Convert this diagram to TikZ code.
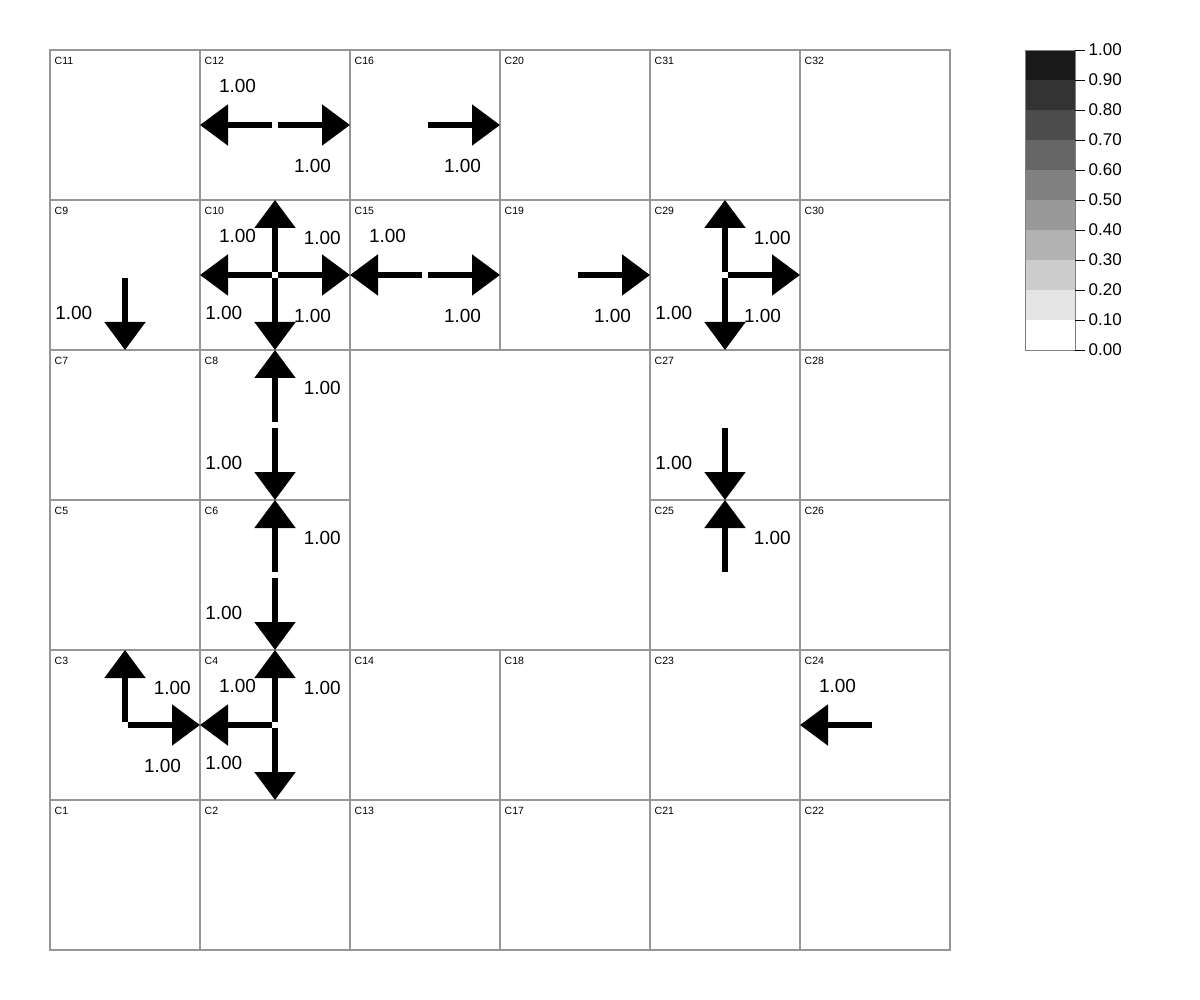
\documentclass[tikz,border=0pt]{standalone}
\usepackage{fontspec}
\setmainfont{Liberation Sans}
\usepackage{tikz}
\usetikzlibrary{arrows.meta, positioning}
\definecolor{gridGray}{RGB}{150,150,150}
\definecolor{barGray}{RGB}{128,128,128}
\tikzset{
    cell/.style={rectangle, draw=gridGray, line width=2pt, minimum size=150pt,
                 inner sep=0pt, outer sep=0pt, label={[cellid]north west:C#1}},
    cellid/.style={anchor=north west, font=\fontsize{10.5}{12}\selectfont, inner xsep=4.5pt, inner ysep=6.5pt},
    flux/.style={-{Triangle[length=28pt, width=40pt]}, line width=5.5pt, shorten <=3pt},
    lbl/.style={font=\fontsize{19}{22}\selectfont, inner sep=0pt},
    tick/.style={font=\fontsize{17}{20}\selectfont, anchor=west, inner sep=3.5pt}
}
\begin{document}
\begin{tikzpicture}[x=1pt, y=-1pt]
    \useasboundingbox (0,0) rectangle (1200,1000);

    % grid cells: id/column/row
    \foreach \id/\col/\row in {11/1/1, 12/2/1, 16/3/1, 20/4/1, 31/5/1, 32/6/1,
                               9/1/2, 10/2/2, 15/3/2, 19/4/2, 29/5/2, 30/6/2,
                               7/1/3, 8/2/3, 27/5/3, 28/6/3,
                               5/1/4, 6/2/4, 25/5/4, 26/6/4,
                               3/1/5, 4/2/5, 14/3/5, 18/4/5, 23/5/5, 24/6/5,
                               1/1/6, 2/2/6, 13/3/6, 17/4/6, 21/5/6, 22/6/6}
        \node[cell=\id] (c\id) at ({150*\col-25},{150*\row-25}) {};

    \draw[flux] (c12.center) -- (c12.west) node[lbl, midway, above=30pt] (t12w) {1.00};
    \draw[flux] (c12.center) -- (c12.east) node[lbl, midway, below=31pt] (t12e) {1.00};
    \draw[flux] (c16.center) -- (c16.east) node[lbl, midway, below=31pt] (t16e) {1.00};

    \draw[flux] (c10.center) -- (c10.north) node[lbl, midway, right=26pt] (t10n) {1.00};
    \draw[flux] (c10.center) -- (c10.south) node[lbl, midway, left=30pt] (t10s) {1.00};
    \draw[flux] (c10.center) -- (c10.west) node[lbl, midway, above=30pt] (t10w) {1.00};
    \draw[flux] (c10.center) -- (c10.east) node[lbl, midway, below=31pt] (t10e) {1.00};
    \draw[flux] (c15.center) -- (c15.west) node[lbl, midway, above=30pt] (t15w) {1.00};
    \draw[flux] (c15.center) -- (c15.east) node[lbl, midway, below=31pt] (t15e) {1.00};
    \draw[flux] (c19.center) -- (c19.east) node[lbl, midway, below=31pt] (t19e) {1.00};
    \draw[flux] (c29.center) -- (c29.north) node[lbl, midway, right=26pt] (t29n) {1.00};
    \draw[flux] (c29.center) -- (c29.south) node[lbl, midway, left=30pt] (t29s) {1.00};
    \draw[flux] (c29.center) -- (c29.east) node[lbl, midway, below=31pt] (t29e) {1.00};
    \draw[flux] (c9.center) -- (c9.south) node[lbl, midway, left=30pt] (t9s) {1.00};

    \draw[flux] (c8.center) -- (c8.north) node[lbl, midway, right=26pt] (t8n) {1.00};
    \draw[flux] (c8.center) -- (c8.south) node[lbl, midway, left=30pt] (t8s) {1.00};
    \draw[flux] (c6.center) -- (c6.north) node[lbl, midway, right=26pt] (t6n) {1.00};
    \draw[flux] (c6.center) -- (c6.south) node[lbl, midway, left=30pt] (t6s) {1.00};
    \draw[flux] (c27.center) -- (c27.south) node[lbl, midway, left=30pt] (t27s) {1.00};
    \draw[flux] (c25.center) -- (c25.north) node[lbl, midway, right=26pt] (t25n) {1.00};

    \draw[flux] (c4.center) -- (c4.north) node[lbl, midway, right=26pt] (t4n) {1.00};
    \draw[flux] (c4.center) -- (c4.west) node[lbl, midway, above=30pt] (t4w) {1.00};
    \draw[flux] (c4.center) -- (c4.south) node[lbl, midway, left=30pt] (t4s) {1.00};
    \draw[flux] (c3.center) -- (c3.north) node[lbl, midway, right=26pt] (t3n) {1.00};
    \draw[flux] (c3.center) -- (c3.east) node[lbl, midway, below=31pt] (t3e) {1.00};
    \draw[flux] (c24.center) -- (c24.west) node[lbl, midway, above=30pt] (t24w) {1.00};

    % colour bar
    \foreach \k [evaluate=\k as \shade using int(10*\k)] in {0,...,9}
        \fill[black!\shade] (1025,{350-30*\k}) rectangle (1075,{320-30*\k});
    \draw[barGray] (1025,50) rectangle (1075,350);
    \foreach \k/\v in {0/0.00, 1/0.10, 2/0.20, 3/0.30, 4/0.40, 5/0.50,
                       6/0.60, 7/0.70, 8/0.80, 9/0.90, 10/1.00}
        \draw (1075,{350-30*\k}) -- ++(10,0) node[tick] (k\k) {\v};
\end{tikzpicture}
\end{document}
